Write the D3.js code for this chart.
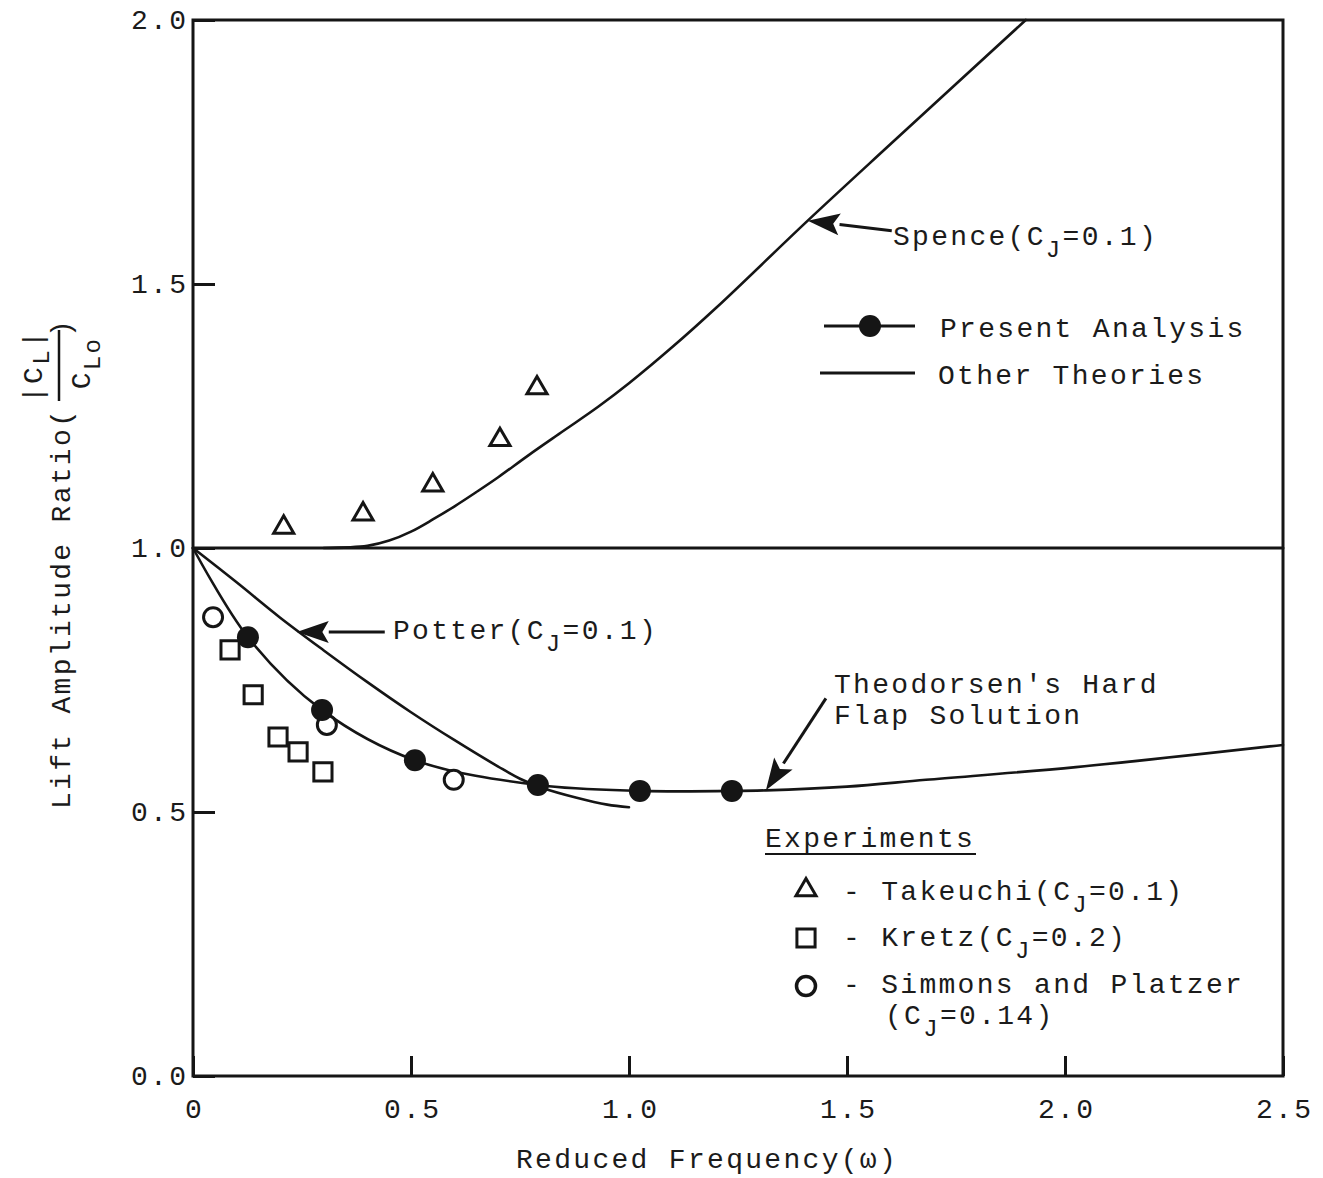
<!DOCTYPE html>
<html>
<head>
<meta charset="utf-8">
<script src="https://cdn.jsdelivr.net/npm/d3@7"></script>
<style>
  body { margin: 0; background: #fff; }
  text { font-family: "Liberation Mono", "Courier New", monospace; fill: #1b1b1b; }
</style>
</head>
<body>
<svg id="chart" width="1323" height="1178"></svg>
<script>
// ---- data ----
var xTicks = [0, 0.5, 1.0, 1.5, 2.0, 2.5];
var yTicks = [0, 0.5, 1.0, 1.5, 2.0];

// present analysis (filled circles + line through them)
var presentX = [0.126, 0.296, 0.509, 0.791, 1.025, 1.236];
var presentY = [0.831, 0.693, 0.598, 0.551, 0.540, 0.540];
var presentLineX = [0, 0.126, 0.296, 0.509, 0.791, 1.025, 1.236];
var presentLineY = [1.0, 0.831, 0.693, 0.598, 0.551, 0.540, 0.540];

// Theodorsen's hard flap solution
var theodorsenX = [1.236, 1.314, 1.5, 1.681, 2.025, 2.5];
var theodorsenY = [0.540, 0.541, 0.548, 0.561, 0.585, 0.627];

// Spence (CJ=0.1)
var spenceX = [0.30, 0.40, 0.45, 0.50, 0.55, 0.60, 0.65, 0.70, 0.77, 0.85, 0.93, 1.0, 1.1, 1.2, 1.41, 1.6, 1.91];
var spenceY = [1.0, 1.004, 1.014, 1.031, 1.054, 1.079, 1.106, 1.134, 1.176, 1.222, 1.268, 1.312, 1.381, 1.455, 1.62, 1.765, 2.0];

// Potter (CJ=0.1)
var potterX = [0, 0.1, 0.2, 0.3, 0.4, 0.5, 0.6, 0.7, 0.75, 0.8, 0.88, 0.95, 1.0];
var potterY = [1.0, 0.935, 0.868, 0.806, 0.746, 0.689, 0.636, 0.586, 0.563, 0.546, 0.527, 0.514, 0.509];

// reference line at ratio 1
var unityX = [0, 2.5];
var unityY = [1.0, 1.0];

// experiments
var takeuchiX = [0.208, 0.39, 0.550, 0.704, 0.789];
var takeuchiY = [1.039, 1.064, 1.119, 1.205, 1.303];
var kretzX = [0.085, 0.138, 0.195, 0.241, 0.298];
var kretzY = [0.807, 0.722, 0.642, 0.614, 0.576];
var simmonsX = [0.046, 0.307, 0.598];
var simmonsY = [0.869, 0.665, 0.561];

(function() {
  // ---- layout ----
  var plotL = 193, plotT = 20, plotR = 1283, plotB = 1076;
  var FS = 28, LS = 2.3;
  var ink = "#151515";

  var svg = d3.select("#chart");

  var x = d3.scaleLinear().domain([0, 2.5]).range([plotL, plotR]);
  var y = d3.scaleLinear().domain([0, 2.0]).range([plotB, plotT]);

  function zip(xs, ys) {
    return xs.map(function(v, i) { return [v, ys[i]]; });
  }

  // frame
  svg.append("rect")
    .attr("x", plotL).attr("y", plotT)
    .attr("width", plotR - plotL).attr("height", plotB - plotT)
    .attr("fill", "none").attr("stroke", ink).attr("stroke-width", 3);

  // axes with inward ticks
  var yAxis = d3.axisLeft(y).tickValues(yTicks).tickSize(-22).tickPadding(7)
    .tickFormat(d3.format(".1f"));
  var gy = svg.append("g").attr("transform", "translate(" + plotL + ",0)").call(yAxis);

  var xAxis = d3.axisBottom(x).tickValues(xTicks).tickSize(-20).tickPadding(22)
    .tickFormat(function(d) { return d === 0 ? "0" : d3.format(".1f")(d); });
  var gx = svg.append("g").attr("transform", "translate(0," + plotB + ")").call(xAxis);

  [gx, gy].forEach(function(g) {
    g.select(".domain").remove();
    g.selectAll(".tick line").attr("stroke", ink).attr("stroke-width", 3);
    g.selectAll(".tick text")
      .attr("fill", "#1b1b1b")
      .style("font-family", "\"Liberation Mono\", monospace")
      .style("font-size", FS + "px")
      .style("letter-spacing", LS + "px");
  });
  gx.selectAll(".tick text").attr("dx", LS / 2);
  gy.selectAll(".tick text").attr("dx", LS);

  // lines
  var line = d3.line()
    .x(function(d) { return x(d[0]); })
    .y(function(d) { return y(d[1]); })
    .curve(d3.curveCatmullRom.alpha(0.5));

  function drawLine(xs, ys, w) {
    svg.append("path")
      .datum(zip(xs, ys))
      .attr("d", line)
      .attr("fill", "none")
      .attr("stroke", ink)
      .attr("stroke-width", w || 2.6)
      .attr("stroke-linejoin", "round")
      .attr("stroke-linecap", "round");
  }

  drawLine(unityX, unityY, 3);
  drawLine(spenceX, spenceY);
  drawLine(potterX, potterY);
  drawLine(presentLineX, presentLineY);
  drawLine(theodorsenX, theodorsenY);

  // markers
  var triangle = d3.symbol().type(d3.symbolTriangle).size(175);
  var square = d3.symbol().type(d3.symbolSquare).size(330);

  function drawSymbols(xs, ys, sym) {
    svg.append("g").selectAll("path")
      .data(zip(xs, ys)).join("path")
      .attr("transform", function(d) { return "translate(" + x(d[0]) + "," + y(d[1]) + ")"; })
      .attr("d", sym)
      .attr("fill", "#fff").attr("stroke", ink).attr("stroke-width", 3);
  }

  drawSymbols(takeuchiX, takeuchiY, triangle);
  drawSymbols(kretzX, kretzY, square);

  svg.append("g").selectAll("circle")
    .data(zip(simmonsX, simmonsY)).join("circle")
    .attr("cx", function(d) { return x(d[0]); })
    .attr("cy", function(d) { return y(d[1]); })
    .attr("r", 9.5)
    .attr("fill", "#fff").attr("stroke", ink).attr("stroke-width", 3);

  svg.append("g").selectAll("circle")
    .data(zip(presentX, presentY)).join("circle")
    .attr("cx", function(d) { return x(d[0]); })
    .attr("cy", function(d) { return y(d[1]); })
    .attr("r", 11)
    .attr("fill", ink);

  // text helper: parts are [string, isSubscript]
  function label(parent, px, py, parts, opts) {
    opts = opts || {};
    var t = parent.append("text")
      .attr("x", px).attr("y", py)
      .style("font-size", (opts.size || FS) + "px")
      .style("letter-spacing", LS + "px")
      .attr("text-anchor", opts.anchor || "start");
    var down = 0;
    parts.forEach(function(p) {
      var s = t.append("tspan").text(p[0]);
      var want = p[1] ? (opts.subShift || 12) : 0;
      if (want !== down) { s.attr("dy", want - down); down = want; }
      if (p[1]) s.style("font-size", (opts.subSize || 24) + "px");
    });
    return t;
  }

  // arrows: tip on a curve (data coords), tail offset in pixels
  function arrow(tipX, tipY, dx, dy) {
    var tx = x(tipX), ty = y(tipY);
    var sx = tx + dx, sy = ty + dy;
    var len = Math.sqrt(dx * dx + dy * dy);
    var ux = dx / len, uy = dy / len;
    var hl = 32, hw = 11;
    var bx = tx + ux * hl, by = ty + uy * hl;
    svg.append("line")
      .attr("x1", sx).attr("y1", sy).attr("x2", bx).attr("y2", by)
      .attr("stroke", ink).attr("stroke-width", 3);
    svg.append("path")
      .attr("d", "M" + tx + "," + ty +
        "L" + (bx - uy * hw) + "," + (by + ux * hw) +
        "L" + (tx + ux * hl * 0.8) + "," + (ty + uy * hl * 0.8) +
        "L" + (bx + uy * hw) + "," + (by - ux * hw) + "Z")
      .attr("fill", ink);
  }

  arrow(1.41, 1.62, 84, 10);
  label(svg, 893, 245, [["Spence(C", 0], ["J", 1], ["=0.1)", 0]]);

  arrow(0.238, 0.841, 88, 0);
  label(svg, 393, 639, [["Potter(C", 0], ["J", 1], ["=0.1)", 0]]);

  arrow(1.314, 0.541, 60, -92);
  label(svg, 834, 693, [["Theodorsen's Hard", 0]]);
  label(svg, 834, 724, [["Flap Solution", 0]]);

  // legend: theories
  svg.append("line").attr("x1", 824).attr("x2", 915).attr("y1", 326).attr("y2", 326)
    .attr("stroke", ink).attr("stroke-width", 3);
  svg.append("circle").attr("cx", 870).attr("cy", 326).attr("r", 11).attr("fill", ink);
  label(svg, 940, 337, [["Present Analysis", 0]]);

  svg.append("line").attr("x1", 820).attr("x2", 915).attr("y1", 373).attr("y2", 373)
    .attr("stroke", ink).attr("stroke-width", 3);
  label(svg, 938, 384, [["Other Theories", 0]]);

  // legend: experiments
  label(svg, 765, 847, [["Experiments", 0]]);
  svg.append("line").attr("x1", 765).attr("x2", 976).attr("y1", 854).attr("y2", 854)
    .attr("stroke", ink).attr("stroke-width", 2);

  svg.append("path").attr("transform", "translate(806,890)").attr("d", triangle)
    .attr("fill", "#fff").attr("stroke", ink).attr("stroke-width", 3);
  label(svg, 843, 900, [["- Takeuchi(C", 0], ["J", 1], ["=0.1)", 0]]);

  svg.append("path").attr("transform", "translate(806,938)").attr("d", square)
    .attr("fill", "#fff").attr("stroke", ink).attr("stroke-width", 3);
  label(svg, 843, 946, [["- Kretz(C", 0], ["J", 1], ["=0.2)", 0]]);

  svg.append("circle").attr("cx", 806).attr("cy", 986).attr("r", 9.5)
    .attr("fill", "#fff").attr("stroke", ink).attr("stroke-width", 3.5);
  label(svg, 843, 993, [["- Simmons and Platzer", 0]]);
  label(svg, 885, 1024, [["(C", 0], ["J", 1], ["=0.14)", 0]]);

  // x axis title
  label(svg, 516, 1168, [["Reduced Frequency(\u03c9)", 0]]);

  // y axis title with fraction |CL| / CLo, rotated
  var yt = svg.append("g").attr("transform", "translate(70,809) rotate(-90)");
  label(yt, 0, 0, [["Lift Amplitude Ratio(", 0]]);
  label(yt, 443, -28, [["|C", 0], ["L", 1], ["|", 0]], { anchor: "middle", subShift: 7 });
  yt.append("line").attr("x1", 408).attr("x2", 479).attr("y1", -11).attr("y2", -11)
    .attr("stroke", ink).attr("stroke-width", 2.5);
  label(yt, 446, 20, [["C", 0], ["Lo", 1]], { anchor: "middle", subShift: 10 });
  label(yt, 472, 0, [[")", 0]]);
})();
</script>
</body>
</html>
